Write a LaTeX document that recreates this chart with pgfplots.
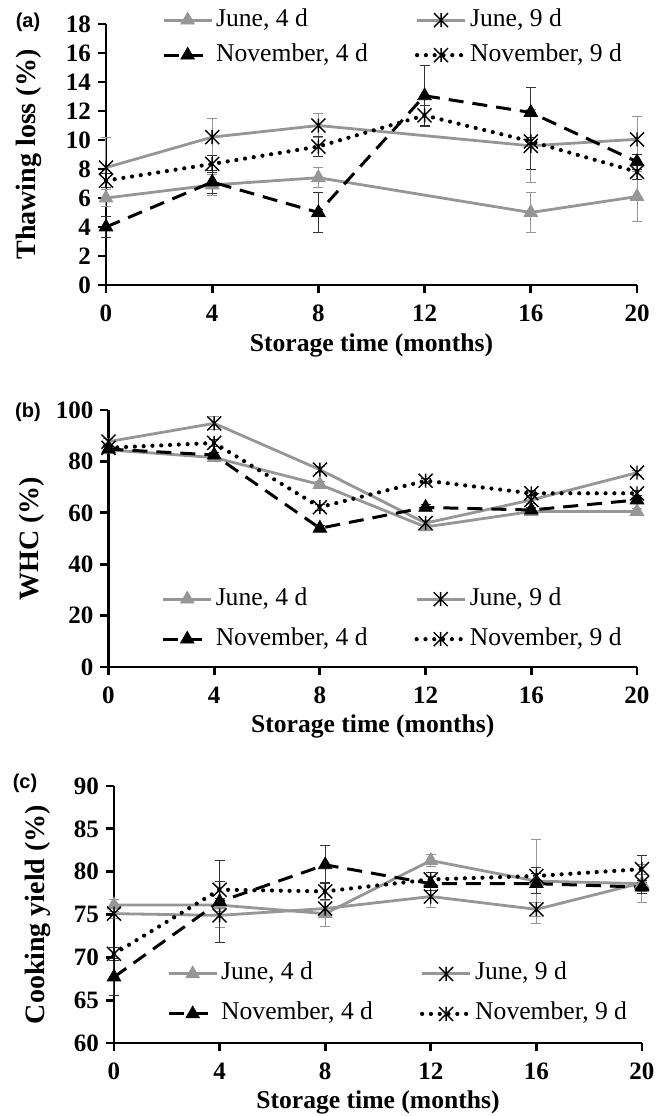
\documentclass[border=0pt]{standalone}
\usepackage{fontspec}
\setmainfont{Liberation Serif}
\newfontfamily\arialfont{Liberation Sans}
\usepackage{pgfplots}
\pgfplotsset{compat=1.18}

\definecolor{exgray}{RGB}{150,150,150}

% Excel-like star: an x with a vertical stroke
\pgfdeclareplotmark{xstar}{%
  \pgfpathmoveto{\pgfqpoint{-\pgfplotmarksize}{-\pgfplotmarksize}}%
  \pgfpathlineto{\pgfqpoint{\pgfplotmarksize}{\pgfplotmarksize}}%
  \pgfpathmoveto{\pgfqpoint{-\pgfplotmarksize}{\pgfplotmarksize}}%
  \pgfpathlineto{\pgfqpoint{\pgfplotmarksize}{-\pgfplotmarksize}}%
  \pgfpathmoveto{\pgfqpoint{0pt}{-\pgfplotmarksize}}%
  \pgfpathlineto{\pgfqpoint{0pt}{\pgfplotmarksize}}%
  \pgfusepathqstroke}

\pgfplotsset{
  panel/.style={
    scale only axis, clip=false,
    axis lines=left, axis line style={-, line width=1.4pt},
    xmin=0, xmax=20, xtick={0,4,...,20},
    tick align=outside, major tick length=4pt,
    tick style={line width=1.4pt, black},
    tick label style={font=\bfseries\fontsize{12.5}{14}\selectfont},
    xticklabel style={yshift=-2.5pt},
    /pgf/number format/assume math mode=true,
    xlabel={Storage time (months)},
    xlabel style={font=\bfseries\fontsize{12.8}{15}\selectfont,
      at={(axis description cs:0.5,-0.23)}, anchor=center},
    ylabel style={font=\bfseries\fontsize{14}{16}\selectfont,
      at={(axis description cs:-0.145,0.5)}, anchor=center},
    legend columns=2, legend cell align=left,
    legend style={draw=none, fill=none, inner sep=0pt,
      font=\fontsize{12.8}{15}\selectfont,
      nodes={inner sep=1.5pt, text height=8.5pt, text depth=2.5pt},
      /tikz/every even column/.append style={column sep=22pt}},
    legend image code/.code={\draw[mark repeat=2, mark phase=2, ##1]
      plot coordinates {(0pt,0pt) (12pt,0pt) (24pt,0pt)};},
  },
  june4/.style={exgray, line width=1.4pt, mark=triangle*, mark size=3.9pt,
    mark options={solid, fill=exgray, draw=exgray, line width=0.4pt},
    error bars/.cd, y dir=both, y explicit,
    error bar style={exgray, line width=0.5pt, solid},
    error mark options={rotate=90, mark size=2.5pt, exgray, line width=0.5pt}},
  june9/.style={exgray, line width=1.4pt, mark=xstar, mark size=3.5pt,
    mark options={solid, black, line width=0.7pt},
    error bars/.cd, y dir=both, y explicit,
    error bar style={exgray, line width=0.5pt, solid},
    error mark options={rotate=90, mark size=2.5pt, exgray, line width=0.5pt}},
  nov4/.style={black, line width=1.5pt, dash pattern=on 7.5pt off 4.5pt,
    mark=triangle*, mark size=3.9pt,
    mark options={solid, fill=black, draw=black, line width=0.4pt},
    error bars/.cd, y dir=both, y explicit,
    error bar style={black!80, line width=0.5pt, solid},
    error mark options={rotate=90, mark size=2.5pt, black!80, line width=0.5pt}},
  nov9/.style={black, line width=2.1pt, dash pattern=on 0pt off 4.4pt, line cap=round,
    mark=xstar, mark size=3.5pt,
    mark options={solid, black, line width=0.7pt, line cap=butt},
    error bars/.cd, y dir=both, y explicit,
    error bar style={black!80, line width=0.5pt, solid, line cap=butt},
    error mark options={rotate=90, mark size=2.5pt, black!80, line width=0.5pt}},
}

\begin{document}
\begin{tikzpicture}
\path[use as bounding box] (0,0) rectangle (331.5pt,-558pt);

% (a) thawing loss
\begin{axis}[panel, at={(53pt,-142.5pt)}, anchor=south west,
  width=265.5pt, height=130.5pt,
  ymin=0, ymax=18, ytick={0,2,...,18},
  ylabel={Thawing loss (\%)},
  legend style={at={(axis description cs:0.105,1.07)}, anchor=north west,
    row sep=3.5pt}]
\addplot[june4] coordinates {(0,6.0)+-(0,0.6) (4,6.9)+-(0,0.7) (8,7.4)+-(0,0.7)
  (16,5.0)+-(0,1.4) (20,6.1)+-(0,1.7)};
\addlegendentry{June, 4 d}
\addplot[june9] coordinates {(0,8.1)+-(0,2.1) (4,10.2)+-(0,1.3) (8,11.0)+-(0,0.8)
  (16,9.6)+-(0,2.5) (20,10.05)+-(0,1.55)};
\addlegendentry{June, 9 d}
\addplot[nov4] coordinates {(0,4.0)+-(0,0.7) (4,7.1)+-(0,0.8) (8,5.0)+-(0,1.4)
  (12,13.05)+-(0,2.1) (16,11.9)+-(0,1.7) (20,8.5)+-(0,0.5)};
\addlegendentry{November, 4 d}
\addplot[nov9] coordinates {(0,7.2)+-(0,0.5) (4,8.35)+-(0,0.6) (8,9.55)+-(0,0.7)
  (12,11.7)+-(0,0.7) (16,9.9)+-(0,1.9) (20,7.8)+-(0,0.5)};
\addlegendentry{November, 9 d}
\end{axis}

% (b) WHC
\begin{axis}[panel, at={(54.25pt,-333.5pt)}, anchor=south west,
  width=264.25pt, height=128.5pt,
  ymin=0, ymax=100, ytick={0,20,...,100},
  ylabel={WHC (\%)},
  legend style={at={(axis description cs:0.1,0.32)}, anchor=north west,
    row sep=6pt}]
\addplot[june4] coordinates {(0,84.5)+-(0,1) (4,81.5)+-(0,1) (8,71.0)+-(0,1.2)
  (12,54.5)+-(0,1) (16,60.5)+-(0,1) (20,60.5)+-(0,1)};
\addlegendentry{June, 4 d}
\addplot[june9] coordinates {(0,87.7)+-(0,1.2) (4,94.8)+-(0,2.5) (8,76.8)+-(0,1.2)
  (12,56.0)+-(0,1.2) (16,65.0)+-(0,1.2) (20,75.6)+-(0,1)};
\addlegendentry{June, 9 d}
\addplot[nov4] coordinates {(0,84.8)+-(0,1) (4,82.5)+-(0,1) (8,54.0)+-(0,1.2)
  (12,62.1)+-(0,1) (16,61.1)+-(0,1) (20,65.0)+-(0,1)};
\addlegendentry{November, 4 d}
\addplot[nov9] coordinates {(0,85.3)+-(0,1) (4,87.2)+-(0,1.5) (8,62.2)+-(0,1.2)
  (12,72.5)+-(0,1) (16,67.6)+-(0,1) (20,67.6)+-(0,1)};
\addlegendentry{November, 9 d}
\end{axis}

% (c) cooking yield
\begin{axis}[panel, at={(57pt,-521.5pt)}, anchor=south west,
  width=264pt, height=128.5pt,
  ymin=60, ymax=90, ytick={60,65,...,90},
  ylabel={Cooking yield (\%)},
  legend style={at={(axis description cs:0.1,0.325)}, anchor=north west,
    row sep=6pt}]
\addplot[june4] coordinates {(0,76.1)+-(0,0.7) (4,76.1)+-(0,0.8) (8,75.1)+-(0,1.5)
  (12,81.3)+-(0,0.7) (16,78.9)+-(0,4.9) (20,78.6)+-(0,2.2)};
\addlegendentry{June, 4 d}
\addplot[june9] coordinates {(0,75.1)+-(0,0.6) (4,74.9)+-(0,1.4) (8,75.7)+-(0,1.0)
  (12,77.1)+-(0,1.3) (16,75.6)+-(0,0.8) (20,78.7)+-(0,1.0)};
\addlegendentry{June, 9 d}
\addplot[nov4] coordinates {(0,67.7)+-(0,2.2) (4,76.5)+-(0,4.8) (8,80.8)+-(0,2.2)
  (12,78.6)+-(0,0.8) (16,78.6)+-(0,1.2) (20,78.2)+-(0,0.8)};
\addlegendentry{November, 4 d}
\addplot[nov9] coordinates {(0,70.4)+-(0,0.8) (4,77.9)+-(0,1.0) (8,77.7)+-(0,1.0)
  (12,79.1)+-(0,0.8) (16,79.5)+-(0,1.0) (20,80.3)+-(0,1.6)};
\addlegendentry{November, 9 d}
\end{axis}

\node[font=\arialfont\bfseries\fontsize{10}{12}\selectfont] at (14pt,-11pt) {(a)};
\node[font=\arialfont\bfseries\fontsize{10}{12}\selectfont] at (14pt,-206pt) {(b)};
\node[font=\arialfont\bfseries\fontsize{10}{12}\selectfont] at (12.5pt,-391.5pt) {(c)};
\end{tikzpicture}
\end{document}
